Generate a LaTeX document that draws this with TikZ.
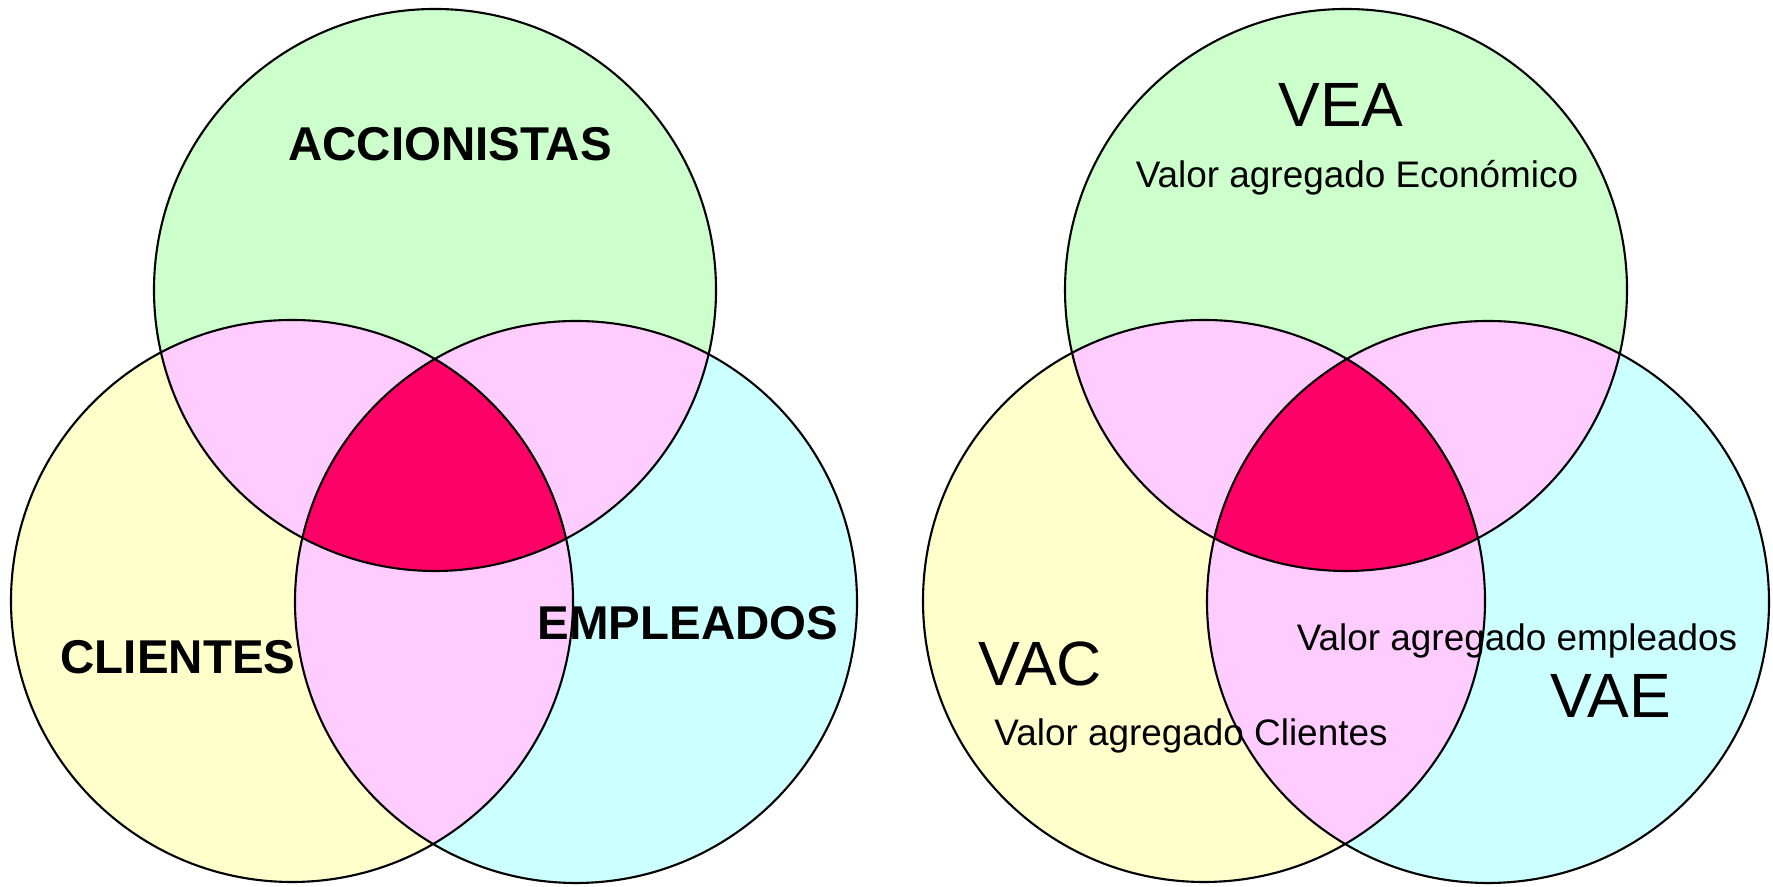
\documentclass[tikz,border=0pt]{standalone}
\usepackage{fontspec}
\setmainfont{Liberation Sans}
\usepackage{tikz}

\definecolor{accgreen}{HTML}{CCFFCC}
\definecolor{cliyellow}{HTML}{FFFFCC}
\definecolor{empcyan}{HTML}{CCFFFF}
\definecolor{lenspink}{HTML}{FFCCFF}
\definecolor{corered}{HTML}{FF0066}

\begin{document}
\begin{tikzpicture}[
    ring/.style={draw=black,line width=0.6pt},
    boldname/.style={font=\fontsize{13.5}{16}\selectfont\bfseries,anchor=base,inner sep=0pt},
    bigname/.style={font=\fontsize{17.8}{20}\selectfont,anchor=base,inner sep=0pt},
    smallname/.style={font=\fontsize{10.5}{12}\selectfont,anchor=base,inner sep=0pt}
]
    \useasboundingbox (0,0) rectangle (17.73,8.87);
    \def\rad{2.81}

    % Left diagram: circle centres
    \coordinate (acc) at (4.35,5.97);
    \coordinate (cli) at (2.92,2.86);
    \coordinate (emp) at (5.76,2.85);

    \fill[accgreen] (acc) circle (\rad);
    \fill[cliyellow] (cli) circle (\rad);
    \fill[empcyan] (emp) circle (\rad);
    \begin{scope}
        \clip (acc) circle (\rad);
        \fill[lenspink] (cli) circle (\rad);
        \fill[lenspink] (emp) circle (\rad);
    \end{scope}
    \begin{scope}
        \clip (cli) circle (\rad);
        \fill[lenspink] (emp) circle (\rad);
    \end{scope}
    \begin{scope}
        \clip (acc) circle (\rad);
        \clip (cli) circle (\rad);
        \fill[corered] (emp) circle (\rad);
    \end{scope}
    \draw[ring] (acc) circle (\rad);
    \draw[ring] (cli) circle (\rad);
    \draw[ring] (emp) circle (\rad);

    \node[boldname] (accionistas) at (4.50,7.26) {ACCIONISTAS};
    \node[boldname] (clientes) at (1.78,2.13) {CLIENTES};
    \node[boldname] (empleados) at (6.88,2.47) {EMPLEADOS};

    % Right diagram: circle centres
    \coordinate (vea) at (13.46,5.97);
    \coordinate (vac) at (12.04,2.86);
    \coordinate (vae) at (14.88,2.85);

    \fill[accgreen] (vea) circle (\rad);
    \fill[cliyellow] (vac) circle (\rad);
    \fill[empcyan] (vae) circle (\rad);
    \begin{scope}
        \clip (vea) circle (\rad);
        \fill[lenspink] (vac) circle (\rad);
        \fill[lenspink] (vae) circle (\rad);
    \end{scope}
    \begin{scope}
        \clip (vac) circle (\rad);
        \fill[lenspink] (vae) circle (\rad);
    \end{scope}
    \begin{scope}
        \clip (vea) circle (\rad);
        \clip (vac) circle (\rad);
        \fill[corered] (vae) circle (\rad);
    \end{scope}
    \draw[ring] (vea) circle (\rad);
    \draw[ring] (vac) circle (\rad);
    \draw[ring] (vae) circle (\rad);

    \node[bigname] (veaname) at (13.41,7.60) {VEA};
    \node[smallname] (veatext) at (13.57,6.99) {Valor agregado Económico};
    \node[bigname] (vacname) at (10.40,2.01) {VAC};
    \node[smallname] (vactext) at (11.91,1.41) {Valor agregado Clientes};
    \node[smallname] (vaetext) at (15.17,2.36) {Valor agregado empleados};
    \node[bigname] (vaename) at (16.11,1.69) {VAE};
\end{tikzpicture}
\end{document}
